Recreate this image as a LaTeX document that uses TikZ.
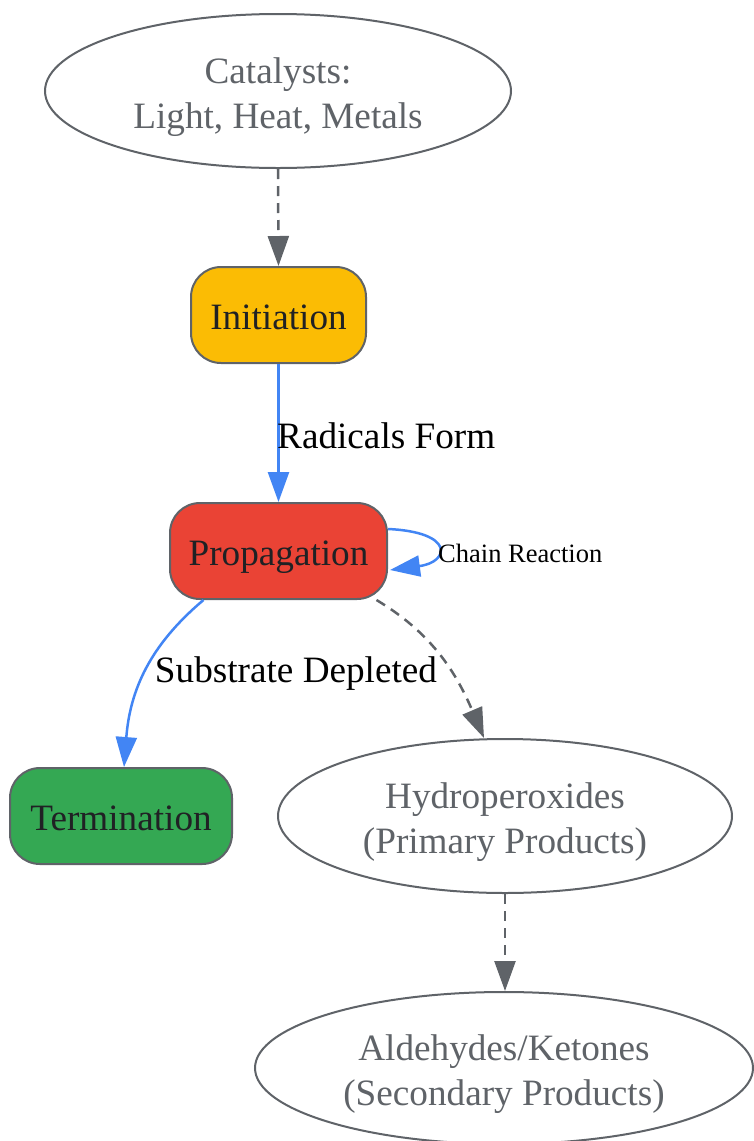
\documentclass[tikz,border=0pt]{standalone}
\usepackage{fontspec}
\setmainfont{Liberation Serif}
\usetikzlibrary{shapes.geometric,arrows.meta}
\definecolor{gline}{HTML}{5F6368}
\definecolor{gtext}{HTML}{202124}
\definecolor{blueE}{HTML}{4285F4}
\definecolor{yellowF}{HTML}{FBBC04}
\definecolor{redF}{HTML}{EA4335}
\definecolor{greenF}{HTML}{34A853}
\tikzset{
  big/.style={font=\fontsize{37.2}{45}\selectfont},
  ell/.style={ellipse, draw=gline, line width=2pt, fill=white, text=gline, big, align=center, inner sep=0pt, text height=74pt, text depth=0pt},
  stepbox/.style={rectangle, rounded corners=30pt, draw=gline, line width=2pt, text=gtext, big, inner sep=0pt, text height=30pt, text depth=2pt},
  tip/.style={-{Triangle[length=30pt,width=21pt]}},
  blueedge/.style={tip, draw=blueE, line width=2.5pt},
  grayedge/.style={tip, draw=gline, line width=2.5pt, dash pattern=on 10pt off 7pt},
  lab/.style={text=black, big, inner sep=0pt}
}
\begin{document}
\begin{tikzpicture}[x=1pt,y=-1pt]
\useasboundingbox (0,0) rectangle (753,1141);
\node[ell, minimum width=466pt, minimum height=154pt] (cat) at (278,91) {Catalysts:\\Light, Heat, Metals};
\node[stepbox, fill=yellowF, minimum width=175pt, minimum height=96pt] (init) at (278.5,315) {Initiation};
\node[stepbox, fill=redF, minimum width=217pt, minimum height=96pt] (prop) at (278.5,551) {Propagation};
\node[stepbox, fill=greenF, minimum width=222pt, minimum height=96pt] (term) at (121,816) {Termination};
\node[ell, minimum width=454pt, minimum height=154pt] (hyd) at (505,816) {Hydroperoxides\\(Primary Products)};
\node[ell, minimum width=498pt, minimum height=152pt] (ald) at (504,1068) {Aldehydes/Ketones\\(Secondary Products)};

\draw[grayedge] (cat.south) -- (init.north);
\draw[blueedge] (init.south) -- (prop.north);
\node[lab, anchor=west] (rf) at (277,436) {Radicals Form};
\draw[blueedge] ([yshift=22pt]prop.east) .. controls (455,532) and (450,562) .. ([xshift=2pt,yshift=-19pt]prop.east);
\node[anchor=west, inner sep=0pt, font=\fontsize{26.5}{30}\selectfont] (cr) at (438,553) {Chain Reaction};
\draw[blueedge] ([xshift=-75pt]prop.south) .. controls (150,645) and (130,690) .. ([xshift=3pt]term.north);
\node[lab] (sd) at (296,674) {Substrate Depleted};
\draw[grayedge] ([xshift=98pt]prop.south) .. controls (430,632) and (455,670) .. ([xshift=-21pt]hyd.north);
\draw[grayedge] (hyd.south) -- ([xshift=1pt]ald.north);
\end{tikzpicture}
\end{document}
